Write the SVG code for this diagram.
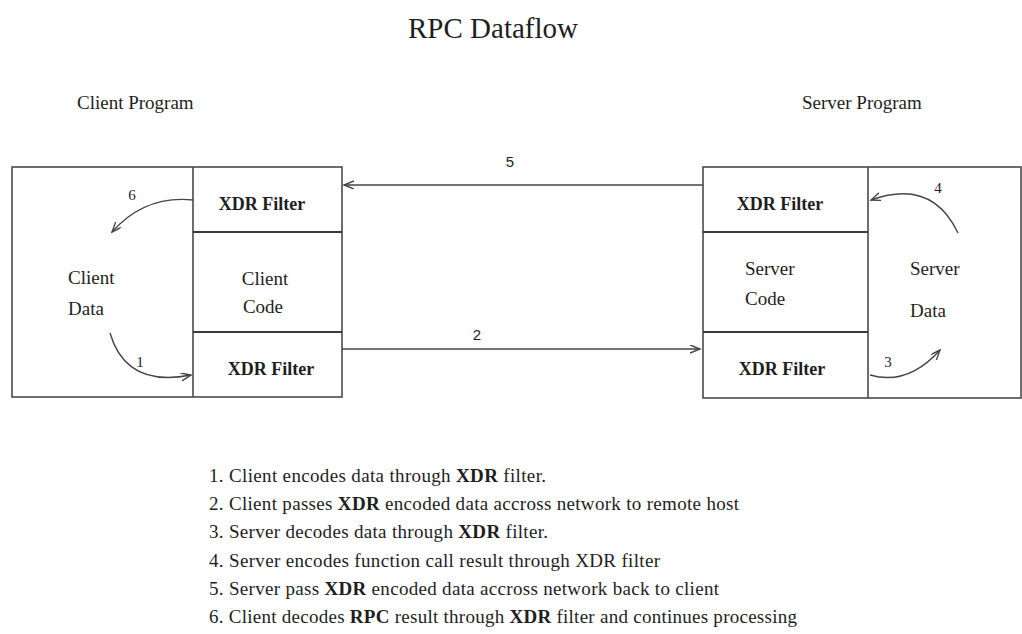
<svg xmlns="http://www.w3.org/2000/svg" width="1022" height="634" viewBox="0 0 1022 634">
<style>
  text { font-family: "Liberation Serif", "Times New Roman", serif; fill: #1e1e1e; }
  .title { font-size: 29px; }
  .head { font-size: 19px; }
  .lbl { font-size: 19px; }
  .xdr { font-size: 18px; font-weight: bold; }
  .num { font-size: 15px; }
  .numS { font-size: 15px; font-family: "Liberation Sans", Arial, sans-serif; }
  .leg { font-size: 19px; }
  .b { font-weight: bold; }
  .box { fill: #ffffff; stroke: #4a4a4a; stroke-width: 1.6; }
  .div { stroke: #4a4a4a; stroke-width: 1.6; fill: none; }
  .hdiv { stroke: #3a3a3a; stroke-width: 2.2; fill: none; }
  .conn { stroke: #444444; stroke-width: 1.4; fill: none; marker-end: url(#arr); }
</style>
<defs>
  <marker id="arr" markerUnits="userSpaceOnUse" markerWidth="12" markerHeight="10" refX="10" refY="4" orient="auto">
    <path d="M0,0 L10,4 L0,8" fill="none" stroke="#444444" stroke-width="1.4"/>
  </marker>
</defs>
<rect width="1022" height="634" fill="#ffffff"/>

<text class="title" x="493" y="38" text-anchor="middle">RPC Dataflow</text>
<text class="head" x="77" y="109">Client Program</text>
<text class="head" x="802" y="109">Server Program</text>

<g id="client">
  <rect class="box" x="12" y="167" width="330" height="230"/>
  <line class="div" x1="193" y1="167" x2="193" y2="397"/>
  <line class="hdiv" x1="193" y1="232" x2="342" y2="232"/>
  <line class="hdiv" x1="193" y1="332" x2="342" y2="332"/>
  <text class="xdr" x="262" y="210" text-anchor="middle">XDR Filter</text>
  <text class="lbl" x="265" y="285" text-anchor="middle">Client</text>
  <text class="lbl" x="263" y="313" text-anchor="middle">Code</text>
  <text class="xdr" x="271" y="375" text-anchor="middle">XDR Filter</text>
  <text class="lbl" x="68" y="284">Client</text>
  <text class="lbl" x="68" y="315">Data</text>
</g>

<g id="server">
  <rect class="box" x="703" y="167" width="318" height="231"/>
  <line class="div" x1="868" y1="167" x2="868" y2="398"/>
  <line class="hdiv" x1="703" y1="232" x2="868" y2="232"/>
  <line class="hdiv" x1="703" y1="332" x2="868" y2="332"/>
  <text class="xdr" x="780" y="210" text-anchor="middle">XDR Filter</text>
  <text class="lbl" x="745" y="275">Server</text>
  <text class="lbl" x="745" y="305">Code</text>
  <text class="xdr" x="782" y="375" text-anchor="middle">XDR Filter</text>
  <text class="lbl" x="910" y="275">Server</text>
  <text class="lbl" x="910" y="317">Data</text>
</g>

<g id="connectors">
  <line class="conn" x1="703" y1="185" x2="344" y2="185"/>
  <text class="numS" x="510" y="167" text-anchor="middle">5</text>
  <line class="conn" x1="342" y1="349" x2="700" y2="349"/>
  <text class="numS" x="477" y="340" text-anchor="middle">2</text>
  <path class="conn" d="M193,200 Q145,195 112,232"/>
  <text class="num" x="132" y="200" text-anchor="middle">6</text>
  <path class="conn" d="M110,333 Q126,388 191,375"/>
  <text class="num" x="140" y="367" text-anchor="middle">1</text>
  <path class="conn" d="M958,233 Q932,178 871,200"/>
  <text class="num" x="938" y="193" text-anchor="middle">4</text>
  <path class="conn" d="M870,375 Q908,386 940,350"/>
  <text class="num" x="888" y="367" text-anchor="middle">3</text>
</g>

<g id="legend">
  <text class="leg" x="209" y="482" textLength="337" lengthAdjust="spacing">1. Client encodes data through <tspan class="b">XDR</tspan> filter.</text>
  <text class="leg" x="209" y="510" textLength="530" lengthAdjust="spacing">2. Client passes <tspan class="b">XDR</tspan> encoded data accross network to remote host</text>
  <text class="leg" x="209" y="538" textLength="339" lengthAdjust="spacing">3. Server decodes data through <tspan class="b">XDR</tspan> filter.</text>
  <text class="leg" x="209" y="567" textLength="451" lengthAdjust="spacing">4. Server encodes function call result through XDR filter</text>
  <text class="leg" x="209" y="595" textLength="510" lengthAdjust="spacing">5. Server pass <tspan class="b">XDR</tspan> encoded data accross network back to client</text>
  <text class="leg" x="209" y="623" textLength="588" lengthAdjust="spacing">6. Client decodes <tspan class="b">RPC</tspan> result through <tspan class="b">XDR</tspan> filter and continues processing</text>
</g>
</svg>
